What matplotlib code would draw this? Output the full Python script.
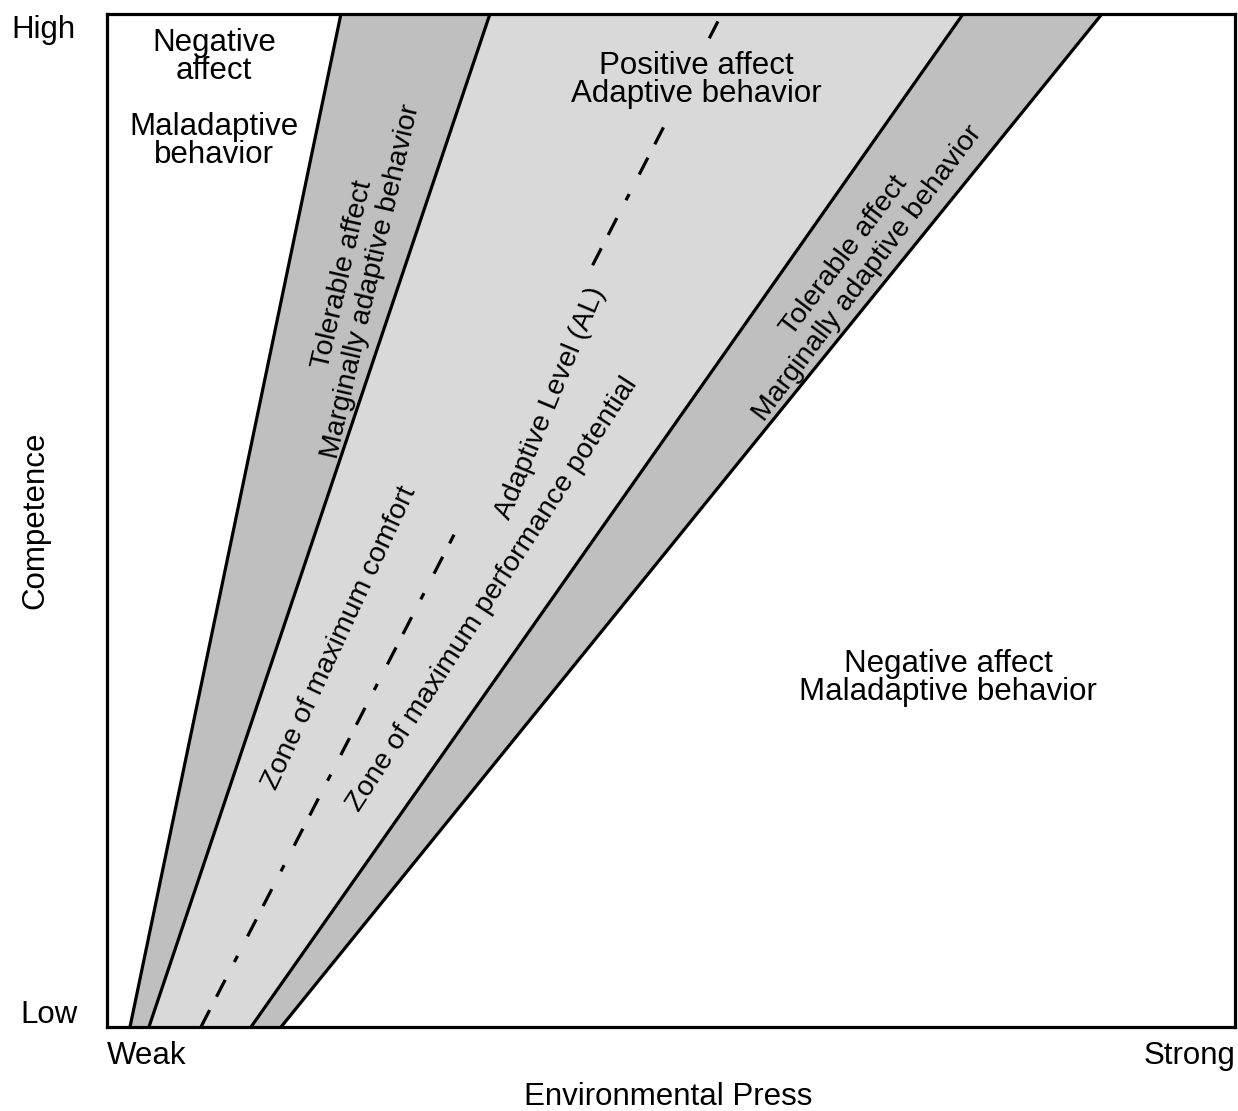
import numpy as np
import matplotlib.pyplot as plt

plt.rcParams['font.family'] = ['Liberation Sans', 'DejaVu Sans']
plt.rcParams['lines.scale_dashes'] = False

# boundary lines: x position at Low (y=0) and at High (y=1) competence
x_low = [0.0204, 0.0372, 0.1277, 0.1543]
x_high = [0.2074, 0.3395, 0.7589, 0.8820]
# adaptive level (dashed) line
al_low, al_high = 0.0833, 0.5450
# pieces of the AL line that are drawn (y ranges), gaps are where labels sit
al_pieces = [(0.0, 0.486), (0.752, 0.893), (0.976, 1.0)]

dark = '#bfbfbf'
light = '#d9d9d9'

fig = plt.figure(figsize=(12.38, 11.11), dpi=100)
ax = fig.add_axes([0.0864, 0.0756, 0.9112, 0.9118])
ax.set_xlim(0, 1)
ax.set_ylim(0, 1)

y = np.array([0.0, 1.0])
edges = [np.array([lo, hi]) for lo, hi in zip(x_low, x_high)]

ax.fill_betweenx(y, edges[0], edges[1], color=dark, lw=0)
ax.fill_betweenx(y, edges[1], edges[2], color=light, lw=0)
ax.fill_betweenx(y, edges[2], edges[3], color=dark, lw=0)
for e in edges:
    ax.plot(e, y, color='black', lw=2.3, solid_capstyle='butt')

for y0, y1 in al_pieces:
    yy = np.array([y0, y1])
    xx = al_low + (al_high - al_low) * yy
    ax.plot(xx, yy, color='black', lw=2.3, dashes=(13.7, 10.8, 13.7, 14.4, 5, 15.8),
            dash_capstyle='butt')

for s in ax.spines.values():
    s.set_linewidth(2.3)
ax.set_xticks([])
ax.set_yticks([])


def px(x, y):
    return ((x - 107) / 1128, (1027 - y) / 1013)


kw = dict(ha='center', va='center', fontsize=22.5, linespacing=0.92, clip_on=False)
rkw = dict(ha='center', va='center', fontsize=20.5, linespacing=1.15, clip_on=False)

ax.text(*px(214, 57), 'Negative\naffect', **kw)
ax.text(*px(214, 141), 'Maladaptive\nbehavior', **kw)
ax.text(*px(696, 80), 'Positive affect\nAdaptive behavior', **kw)
ax.text(*px(948, 678), 'Negative affect\nMaladaptive behavior', **kw)
ax.text(*px(357, 278), 'Tolerable affect\nMarginally adaptive behavior', rotation=77, **rkw)
ax.text(*px(856, 265), 'Tolerable affect\nMarginally adaptive behavior', rotation=53, **rkw)
ax.text(*px(340, 638), 'Zone of maximum comfort', rotation=65, **rkw)
ax.text(*px(551, 403), 'Adaptive Level (AL)', rotation=67.5, **rkw)
ax.text(*px(492, 594), 'Zone of maximum performance potential', rotation=57, **rkw)

# axis labels
ax.text(*px(43, 30), 'High', **kw)
ax.text(*px(49, 1015), 'Low', **kw)
ax.text(*px(147, 1056), 'Weak', **kw)
ax.text(*px(1190, 1056), 'Strong', **kw)
ax.text(*px(35, 520), 'Competence', rotation=90, **kw)
ax.text(*px(668, 1097), 'Environmental Press', **kw)

fig.savefig('out.png', dpi=100)
